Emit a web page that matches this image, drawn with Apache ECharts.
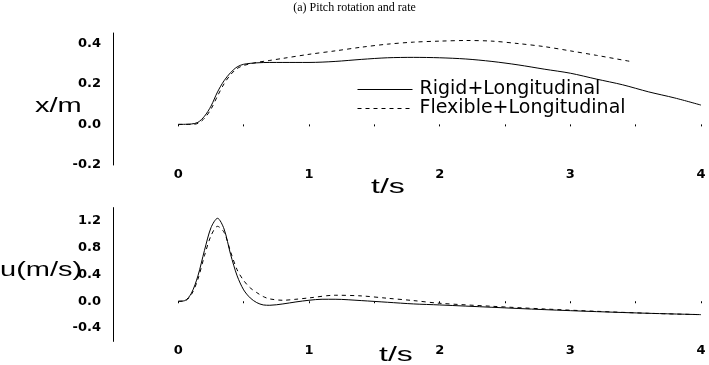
<!DOCTYPE html>
<html><head><meta charset="utf-8">
<script src="https://cdn.jsdelivr.net/npm/echarts@6/dist/echarts.min.js"></script>
<style>html,body{margin:0;padding:0;background:#fff}#c{width:709px;height:365px}</style>
</head><body><div id="c"></div>
<script>
const titleText = '(a) Pitch rotation and rate';
const seriesNames = ['Rigid+Longitudinal', 'Flexible+Longitudinal'];
const topYName = 'x/m';
const bottomYName = 'u(m/s)';
const xName = 't/s';

// Top panel: x/m
const topRigidT = [0,0.1,0.15,0.2,0.25,0.3,0.35,0.4,0.45,0.5,0.6,0.7,0.8,1.0,1.2,1.4,1.6,1.8,2.0,2.2,2.4,2.6,2.8,3.0,3.2,3.4,3.6,3.8,4.0];
const topRigidV = [0,0.002,0.01,0.04,0.09,0.16,0.215,0.255,0.283,0.296,0.303,0.305,0.305,0.305,0.31,0.32,0.328,0.33,0.328,0.322,0.31,0.293,0.272,0.252,0.223,0.195,0.16,0.13,0.095];
const topFlexT = [0,0.1,0.15,0.2,0.25,0.3,0.35,0.4,0.45,0.5,0.6,0.7,0.8,1.0,1.2,1.4,1.6,1.8,2.0,2.2,2.4,2.6,2.8,3.0,3.2,3.46];
const topFlexV = [0,0,0.005,0.03,0.075,0.14,0.2,0.245,0.275,0.29,0.305,0.315,0.325,0.345,0.362,0.38,0.395,0.405,0.41,0.413,0.41,0.398,0.383,0.362,0.34,0.31];

// Bottom panel: u(m/s)
const botRigidT = [0,0.05,0.1,0.15,0.2,0.25,0.3,0.35,0.4,0.45,0.5,0.55,0.6,0.65,0.7,0.8,0.9,1.0,1.1,1.2,1.4,1.6,1.8,2.0,2.4,2.8,3.2,3.6,4.0];
const botRigidV = [0,0.01,0.12,0.38,0.76,1.1,1.24,1.08,0.7,0.38,0.17,0.05,-0.02,-0.055,-0.06,-0.04,-0.01,0.015,0.03,0.03,0.01,-0.015,-0.04,-0.055,-0.09,-0.125,-0.155,-0.18,-0.2];
const botFlexT = [0,0.05,0.1,0.15,0.2,0.25,0.3,0.35,0.4,0.45,0.5,0.55,0.6,0.65,0.7,0.8,0.9,1.0,1.2,1.4,1.6,1.8,2.0,2.4,2.8,3.2,3.6,4.0];
const botFlexV = [0,0.005,0.1,0.33,0.68,0.98,1.12,1.03,0.74,0.47,0.31,0.2,0.13,0.07,0.035,0.015,0.03,0.05,0.09,0.08,0.045,0.01,-0.03,-0.075,-0.115,-0.15,-0.18,-0.2];

const zip = (t, v) => t.map((x, i) => [x, v[i]]);
const FONT = '"Liberation Sans", Arial, sans-serif';
const TICKFONT = '"DejaVu Sans", sans-serif';

function xAxisCfg(gridIndex) {
  return {
    type: 'value', gridIndex, min: -0.5, max: 4, interval: 0.5,
    axisLine: { show: false },
    axisTick: { show: true, inside: false, length: 2, lineStyle: { color: '#000', width: 1 } },
    splitLine: { show: false },
    axisLabel: {
      margin: 3, color: '#000', fontFamily: TICKFONT, fontWeight: 'bold', fontSize: 13,
      formatter: v => (Math.abs(v - Math.round(v)) < 1e-6 && v >= 0) ? String(Math.round(v)) : ''
    }
  };
}
function yAxisCfg(gridIndex, min, max, interval, step) {
  return {
    type: 'value', gridIndex, min, max, interval,
    axisLine: { show: true, onZero: false, lineStyle: { color: '#000', width: 1 } },
    axisTick: { show: false },
    splitLine: { show: false },
    axisLabel: {
      margin: 12, color: '#000', fontFamily: TICKFONT, fontWeight: 'bold', fontSize: 13,
      showMaxLabel: true, showMinLabel: true,
      formatter: v => {
        const k = Math.round(v / step);
        if (Math.abs(v - k * step) > 1e-6) return '';
        if (v < min + 1e-9 && Math.abs(min / step - Math.round(min / step)) > 1e-6) return '';
        return (Math.abs(v) < 1e-9 ? 0 : v).toFixed(1);
      }
    }
  };
}
const lineBase = { type: 'line', symbol: 'none', smooth: 0.3, silent: true, color: '#000', itemStyle: { color: '#000' } };

const chart = echarts.init(document.getElementById('c'));
chart.setOption({
  animation: false,
  backgroundColor: '#fff',
  color: ['#000', '#000'],
  grid: [
    { left: 113, right: 8, top: 33, height: 132 },
    { left: 113, right: 8, top: 207.6, height: 133.8 }
  ],
  xAxis: [xAxisCfg(0), xAxisCfg(1)],
  yAxis: [
    yAxisCfg(0, -0.2, 0.45, 0.05, 0.2),
    yAxisCfg(1, -0.6, 1.4, 0.2, 0.4)
  ],
  legend: {
    left: 357, top: 80, orient: 'vertical', itemWidth: 55, itemHeight: 10, itemGap: 0, padding: 0,
    data: seriesNames,
    itemStyle: { opacity: 0 },
    lineStyle: { width: 1 },
    textStyle: { color: '#000', fontFamily: TICKFONT, fontSize: 19, lineHeight: 17, padding: [0, 0, 0, 2] },
    selectedMode: false
  },
  series: [
    Object.assign({}, lineBase, { name: seriesNames[0], xAxisIndex: 0, yAxisIndex: 0, data: zip(topRigidT, topRigidV), lineStyle: { color: '#000', width: 1, type: 'solid' } }),
    Object.assign({}, lineBase, { name: seriesNames[1], xAxisIndex: 0, yAxisIndex: 0, data: zip(topFlexT, topFlexV), lineStyle: { color: '#000', width: 1, type: [4, 4] } }),
    Object.assign({}, lineBase, { name: seriesNames[0], xAxisIndex: 1, yAxisIndex: 1, data: zip(botRigidT, botRigidV), lineStyle: { color: '#000', width: 1, type: 'solid' } }),
    Object.assign({}, lineBase, { name: seriesNames[1], xAxisIndex: 1, yAxisIndex: 1, data: zip(botFlexT, botFlexV), lineStyle: { color: '#000', width: 1, type: [4, 4] } })
  ],
  graphic: [
    { type: 'text', left: 'center', top: 2, style: { text: titleText, fill: '#000', font: '12px "Liberation Serif", "Times New Roman", serif' } },
    { type: 'text', x: 35, y: 96, scaleX: 1.45, style: { text: topYName, fill: '#000', font: '20px ' + FONT } },
    { type: 'text', x: 0, y: 260, scaleX: 1.45, style: { text: bottomYName, fill: '#000', font: '20px ' + FONT } },
    { type: 'text', x: 371, y: 177, scaleX: 1.6, style: { text: xName, fill: '#000', font: '20px ' + FONT } },
    { type: 'text', x: 379, y: 345, scaleX: 1.6, style: { text: xName, fill: '#000', font: '20px ' + FONT } }
  ]
});
</script>
</body></html>
